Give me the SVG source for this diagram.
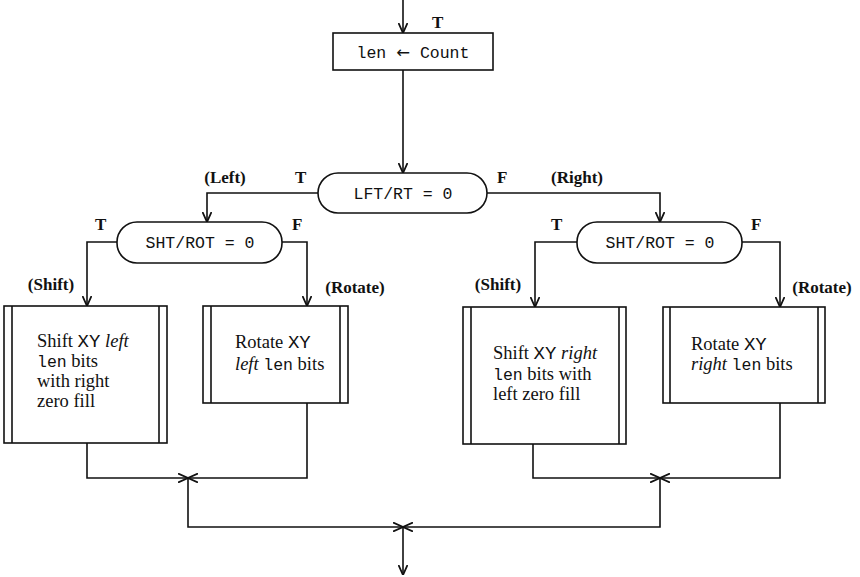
<svg xmlns="http://www.w3.org/2000/svg" width="860" height="577" viewBox="0 0 860 577">
<style>
.ln{fill:none;stroke:#111;stroke-width:1.6}
.bx{fill:#fff;stroke:#111;stroke-width:1.6}
.lb{font-family:"Liberation Serif","Times New Roman",serif;font-size:17px;font-weight:bold;fill:#111}
.tx{font-family:"Liberation Serif","Times New Roman",serif;font-size:18.5px;fill:#111}
.mo{font-family:"Liberation Mono","Courier New",monospace;font-size:16.5px;fill:#111}
.xy{font-family:"Liberation Mono","Courier New",monospace;font-size:19px}
.it{font-style:italic}
.ar{font-family:"DejaVu Sans",sans-serif}
</style>
<defs>
<marker id="ah" viewBox="0 0 10 10" refX="10" refY="5" markerWidth="10" markerHeight="10" markerUnits="userSpaceOnUse" orient="auto">
<path d="M0,0.5 L10,5 L0,9.5" fill="none" stroke="#111" stroke-width="1.8"/>
</marker>
</defs>
<rect width="860" height="577" fill="#fff"/>
<g id="connectors">
<path class="ln" d="M403,0 V33" marker-end="url(#ah)"/>
<path class="ln" d="M403,70 V173" marker-end="url(#ah)"/>
<path class="ln" d="M318,193 H207 V222" marker-end="url(#ah)"/>
<path class="ln" d="M487,193 H660 V222" marker-end="url(#ah)"/>
<path class="ln" d="M117,242 H87 V306" marker-end="url(#ah)"/>
<path class="ln" d="M282,242 H307 V306" marker-end="url(#ah)"/>
<path class="ln" d="M577,242 H535 V307" marker-end="url(#ah)"/>
<path class="ln" d="M742,242 H780 V307" marker-end="url(#ah)"/>
<path class="ln" d="M87,443 V478 H188" marker-end="url(#ah)"/>
<path class="ln" d="M307,403 V478 H188" marker-end="url(#ah)"/>
<path class="ln" d="M533,444 V478 H660" marker-end="url(#ah)"/>
<path class="ln" d="M780,403 V478 H660" marker-end="url(#ah)"/>
<path class="ln" d="M188,478 V527 H403" marker-end="url(#ah)"/>
<path class="ln" d="M660,478 V527 H403" marker-end="url(#ah)"/>
<path class="ln" d="M403,527 V575" marker-end="url(#ah)"/>
</g>
<g id="labels">
<text class="lb" x="432" y="28">T</text>
<text class="lb" x="225" y="183" text-anchor="middle">(Left)</text>
<text class="lb" x="295" y="183">T</text>
<text class="lb" x="497" y="183">F</text>
<text class="lb" x="577" y="183" text-anchor="middle">(Right)</text>
<text class="lb" x="95" y="230">T</text>
<text class="lb" x="292" y="230">F</text>
<text class="lb" x="51" y="290" text-anchor="middle">(Shift)</text>
<text class="lb" x="355" y="293" text-anchor="middle">(Rotate)</text>
<text class="lb" x="551" y="230">T</text>
<text class="lb" x="751" y="230">F</text>
<text class="lb" x="498" y="290" text-anchor="middle">(Shift)</text>
<text class="lb" x="822" y="293" text-anchor="middle">(Rotate)</text>
</g>
<g id="assign">
<rect class="bx" x="333" y="33" width="160" height="37"/>
<text class="mo" x="413" y="58" text-anchor="middle">len <tspan class="ar">←</tspan> Count</text>
</g>
<g id="dec-lftrt">
<rect class="bx" x="318" y="173" width="169" height="40" rx="20" ry="20"/>
<text class="mo" x="403" y="199" text-anchor="middle">LFT/RT = 0</text>
</g>
<g id="dec-shtrot-left">
<rect class="bx" x="117" y="222" width="165" height="41" rx="20" ry="20"/>
<text class="mo" x="200" y="248" text-anchor="middle">SHT/ROT = 0</text>
</g>
<g id="dec-shtrot-right">
<rect class="bx" x="577" y="222" width="165" height="41" rx="20" ry="20"/>
<text class="mo" x="660" y="248" text-anchor="middle">SHT/ROT = 0</text>
</g>
<g id="shift-left">
<rect class="bx" x="4" y="306" width="163" height="137"/>
<path class="ln" d="M12,306 V443 M159,306 V443"/>
<text class="tx" x="37" y="347">Shift <tspan class="xy">XY</tspan> <tspan class="it">left</tspan></text>
<text class="tx" x="37" y="367"><tspan class="mo">len</tspan> bits</text>
<text class="tx" x="37" y="387">with right</text>
<text class="tx" x="37" y="407">zero fill</text>
</g>
<g id="rotate-left">
<rect class="bx" x="203" y="306" width="145" height="97"/>
<path class="ln" d="M211,306 V403 M340,306 V403"/>
<text class="tx" x="235" y="348">Rotate <tspan class="xy">XY</tspan></text>
<text class="tx" x="235" y="370"><tspan class="it">left</tspan> <tspan class="mo">len</tspan> bits</text>
</g>
<g id="shift-right">
<rect class="bx" x="463" y="307" width="163" height="137"/>
<path class="ln" d="M471,307 V444 M619,307 V444"/>
<text class="tx" x="493" y="359">Shift <tspan class="xy">XY</tspan> <tspan class="it">right</tspan></text>
<text class="tx" x="493" y="380"><tspan class="mo">len</tspan> bits with</text>
<text class="tx" x="493" y="400">left zero fill</text>
</g>
<g id="rotate-right">
<rect class="bx" x="663" y="307" width="162" height="96"/>
<path class="ln" d="M670,307 V403 M818,307 V403"/>
<text class="tx" x="691" y="350">Rotate <tspan class="xy">XY</tspan></text>
<text class="tx" x="691" y="370"><tspan class="it">right</tspan> <tspan class="mo">len</tspan> bits</text>
</g>
</svg>
